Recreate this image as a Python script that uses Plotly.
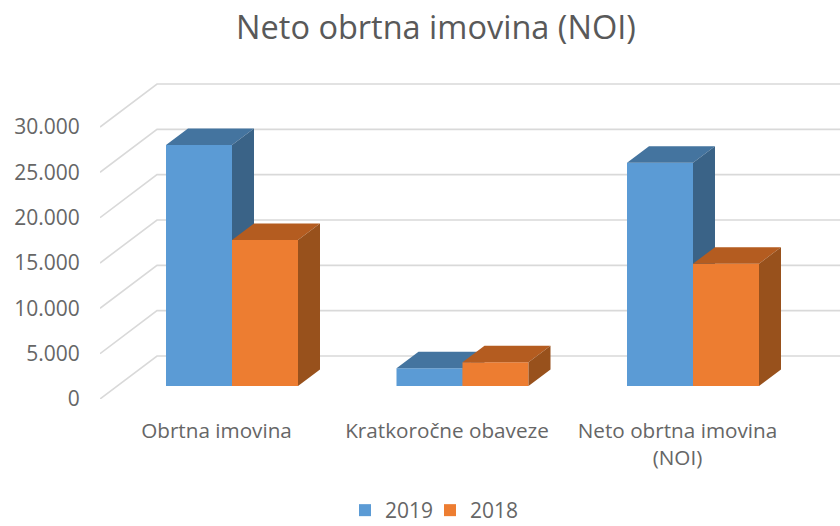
import plotly.graph_objects as go

# Data
categories = ["Obrtna imovina", "Kratkoročne obaveze", "Neto obrtna imovina<br>(NOI)"]
values_2019 = [26580, 1950, 24630]
values_2018 = [16100, 2610, 13490]
value_ticks = [0, 5000, 10000, 15000, 20000, 25000, 30000]

# Pseudo-3D projection settings (pixels on the canvas)
W, H = 840, 526
PLOT_L, PLOT_T, PLOT_B = 100, 80, 399
UNIT_PX = 230.5            # pixels per category
VALUE_PX = 272 / 30000     # pixels per value unit
CENTER0_PX = 232           # first bar pair's centre
BAR_W = 66 / UNIT_PX
LIFT = 13 / VALUE_PX       # bars stand slightly behind the front edge
BAR_DX, BAR_DY = 22 / UNIT_PX, 16.5 / VALUE_PX
WALL_DX, WALL_DY = 57 / UNIT_PX, 43 / VALUE_PX
LABEL_SHIFT = 15.5 / UNIT_PX

x_min = (PLOT_L - CENTER0_PX) / UNIT_PX
x_max = (W - CENTER0_PX) / UNIT_PX
y_max = (PLOT_B - PLOT_T) / VALUE_PX
xs = list(range(len(categories)))

fig = go.Figure()

# Back wall + floor-side grid lines
gx, gy = [], []
for v in value_ticks:
    gx += [x_min, x_min + WALL_DX, x_max, None]
    gy += [v, v + WALL_DY, v + WALL_DY, None]
fig.add_trace(go.Scatter(x=gx, y=gy, mode="lines", line=dict(color="#d9d9d9", width=1.6),
                         showlegend=False, hoverinfo="skip", cliponaxis=False))


def add_series(name, values, offset, front, top, side, xa, ya, legend):
    fig.add_trace(go.Bar(x=xs, y=values, base=LIFT, width=BAR_W, offset=offset, name=name,
                         marker=dict(color=front, line=dict(width=0)), xaxis=xa, yaxis=ya,
                         legend=legend, showlegend=True))
    tx, ty, sx, sy = [], [], [], []
    for i, v in zip(xs, values):
        l = i + offset
        r = l + BAR_W
        t = LIFT + v
        tx += [l, l + BAR_DX, r + BAR_DX, r, l, None]
        ty += [t, t + BAR_DY, t + BAR_DY, t, t, None]
        sx += [r, r + BAR_DX, r + BAR_DX, r, r, None]
        sy += [LIFT, LIFT + BAR_DY, t + BAR_DY, t, LIFT, None]
    for px, py, c in ((tx, ty, top), (sx, sy, side)):
        fig.add_trace(go.Scatter(x=px, y=py, mode="lines", fill="toself", fillcolor=c,
                                 line=dict(width=0), showlegend=False, hoverinfo="skip",
                                 xaxis=xa, yaxis=ya))


add_series("2019", values_2019, -BAR_W, "#5B9BD5", "#44749F", "#3A6387", "x2", "y2", "legend")
add_series("2018", values_2018, 0, "#ED7D31", "#B45C20", "#98511C", "x3", "y3", "legend2")

FONT = "Open Sans"
TXT = "#666666"
hidden = dict(range=[x_min, x_max], visible=False, overlaying="x")
hidden_y = dict(range=[0, y_max], visible=False, overlaying="y")


def legend_at(left_px):
    return dict(orientation="h", x=(left_px - PLOT_L) / (W - PLOT_L), xanchor="left", xref="paper",
                y=-(490 - PLOT_B) / (PLOT_B - PLOT_T), yanchor="top", yref="paper",
                font=dict(size=21, family=FONT, color=TXT), bgcolor="rgba(0,0,0,0)")


fig.update_layout(
    width=W, height=H,
    margin=dict(l=PLOT_L, r=0, t=PLOT_T, b=H - PLOT_B, autoexpand=False),
    paper_bgcolor="white", plot_bgcolor="white",
    separators=",.",
    font=dict(family=FONT, color=TXT),
    title=dict(text="Neto obrtna imovina (NOI)", x=0.519, xanchor="center", xref="container",
               y=0.948, yanchor="middle", yref="container",
               font=dict(size=32.5, family=FONT, color="#595959")),
    xaxis=dict(range=[x_min, x_max], tickmode="array",
               tickvals=[i - LABEL_SHIFT for i in xs], ticktext=categories,
               ticks="outside", ticklen=13, tickcolor="rgba(0,0,0,0)",
               showgrid=False, zeroline=False, showline=False,
               tickangle=0, tickfont=dict(size=20.7, family=FONT, color=TXT)),
    yaxis=dict(range=[0, y_max], tickmode="array", tickvals=value_ticks, tickformat=",d",
               ticks="outside", ticklen=15, tickcolor="rgba(0,0,0,0)",
               showgrid=False, zeroline=False, showline=False,
               tickfont=dict(size=21, family=FONT, color=TXT)),
    xaxis2=hidden, yaxis2=hidden_y,
    xaxis3=hidden, yaxis3=hidden_y,
    legend=legend_at(345),
    legend2=legend_at(430),
    showlegend=True,
)

fig.write_html("out.html", config={"displayModeBar": False},
               post_script="document.body.style.margin='0';document.documentElement.style.overflow='hidden';")
